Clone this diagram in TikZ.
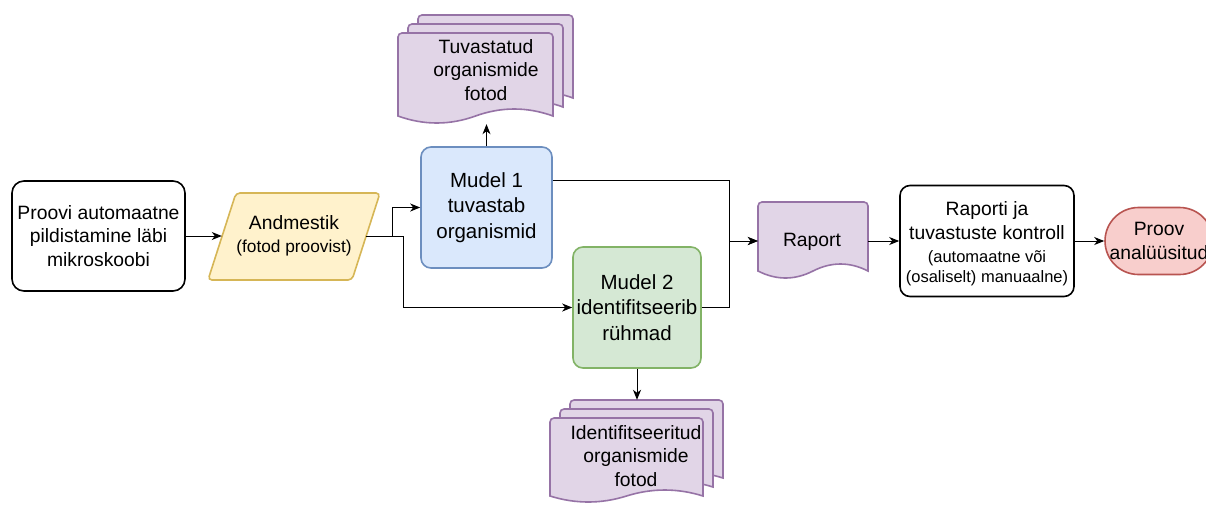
\documentclass[tikz,border=0pt]{standalone}
\usepackage{fontspec}
\setmainfont{Liberation Sans}
\usetikzlibrary{arrows.meta}
\definecolor{bfill}{HTML}{DAE8FC}\definecolor{bstroke}{HTML}{6C8EBF}
\definecolor{gfill}{HTML}{D5E8D4}\definecolor{gstroke}{HTML}{82B366}
\definecolor{yfill}{HTML}{FFF2CC}\definecolor{ystroke}{HTML}{D6B656}
\definecolor{pfill}{HTML}{E1D5E7}\definecolor{pstroke}{HTML}{9673A6}
\definecolor{rfill}{HTML}{F8CECC}\definecolor{rstroke}{HTML}{B85450}
% document page: style, x, y, w, h (to baseline), rise u, dip d
\newcommand\mydocpage[7]{%
  \path[#1] (#2,#3+#5) [rounded corners=4pt] -- (#2,#3) -- (#2+#4,#3) [sharp corners] -- (#2+#4,#3+#5)
    .. controls (#2+0.8333*#4,#3+#5-0.6667*#6) and (#2+0.6667*#4,#3+#5-0.6667*#6) .. (#2+0.5*#4,#3+#5)
    .. controls (#2+0.3333*#4,#3+#5+0.6667*#7) and (#2+0.1667*#4,#3+#5+0.6667*#7) .. (#2,#3+#5) -- cycle;}
\begin{document}
\begin{tikzpicture}[x=1pt,y=-1pt,
  box/.style={draw, line width=1.6pt, rounded corners=10pt, align=center, inner sep=0pt},
  bigf/.style={font=\fontsize{19.3}{23.2}\selectfont},
  modf/.style={font=\fontsize{20.5}{25.5}\selectfont},
  ghost/.style={inner sep=0pt, align=center},
  arr/.style={draw=black, line width=1pt, -{Stealth[length=10pt,width=8pt,inset=3pt]}},
  docp/.style={draw=pstroke, fill=pfill, line width=1.6pt}]
\fill[white] (0,0) rectangle (1206,504);
\useasboundingbox (0,0) rectangle (1206,504);
\clip (0,0) rectangle (1206,504);

% start
\node[box, bigf, draw=black, fill=white, rounded corners=12pt, minimum width=173pt, minimum height=110pt] (start) at (98.5,236)
  {Proovi automaatne\\pildistamine läbi\\mikroskoobi};

% Andmestik parallelogram
\draw[fill=yfill, draw=ystroke, line width=1.6pt, rounded corners=4pt] (236,193) -- (380,193) -- (352,280) -- (208,280) -- cycle;
\node[ghost, bigf, minimum width=144pt, minimum height=87pt] (andm) at (294,236)
  {Andmestik\\{\fontsize{17.3}{20}\selectfont (fotod proovist)}};

% models
\node[box, modf, draw=bstroke, fill=bfill, minimum width=131pt, minimum height=121pt] (m1) at (486.5,207.5)
  {Mudel 1\\tuvastab\\organismid};
\node[box, modf, draw=gstroke, fill=gfill, minimum width=128pt, minimum height=121pt] (m2) at (637,307.5)
  {Mudel 2\\identifitseerib\\rühmad};

% top stack
\mydocpage{docp}{418}{15}{155}{83}{14}{14}
\mydocpage{docp}{408}{24}{155}{83}{14}{14}
\mydocpage{docp}{398}{33}{155}{83}{14}{14}
\node[ghost, minimum width=175pt, minimum height=109pt] (tstack) at (485.5,69.5) {};
\node[ghost, bigf] (ttext) at (486,70) {Tuvastatud\\organismide\\fotod};

% bottom stack
\mydocpage{docp}{570}{400}{153}{78}{12}{12}
\mydocpage{docp}{560}{409}{153}{78}{12}{12}
\mydocpage{docp}{550}{418}{153}{78}{12}{12}
\node[ghost, minimum width=173pt, minimum height=104pt] (bstack) at (636.5,452) {};
\node[ghost, bigf] (btext) at (636,456) {Identifitseeritud\\organismide\\fotod};

% Raport
\mydocpage{docp}{758}{202}{110}{69}{14}{14}
\node[ghost, minimum width=110pt, minimum height=78pt] (rap) at (813,241) {};
\node[ghost, bigf] (raptext) at (812,242) {Raport};

% control
\node[box, bigf, draw=black, fill=white, minimum width=174pt, minimum height=111pt] (ctl) at (987,241) {};
\node[ghost, bigf] (ctltext) at (987,244)
  {Raporti ja\\tuvastuste kontroll\\{\fontsize{16.5}{20}\selectfont (automaatne või}\\[-3pt]{\fontsize{16.5}{20}\selectfont (osaliselt) manuaalne)}};

% end
\node[draw=rstroke, fill=rfill, line width=1.6pt, rounded corners=33.5pt, minimum width=108pt, minimum height=67pt, inner sep=0pt, bigf, align=center] (proov) at (1159,241)
  {Proov\\analüüsitud};

% connectors
\coordinate (j1) at (392,236);
\coordinate (j2) at (403,236);
\coordinate (jr) at (729,241);
\draw[arr] (start.east) -- (andm.west);
\draw[arr] (andm.east) -- (j1) |- (m1.west);
\draw[arr] (andm.east) -- (j2) |- (m2.west);
\draw[arr] (m1.22) -| (jr) -- (rap.west);
\draw[arr] (m2.east) -| (jr) -- (rap.west);
\draw[arr] (m1.north) -- (tstack.south -| m1.north);
\draw[arr] (m2.south) -- (bstack.north -| m2.south);
\draw[arr] (rap.east) -- (ctl.west);
\draw[arr] (ctl.east) -- (proov.west);
\end{tikzpicture}
\end{document}
